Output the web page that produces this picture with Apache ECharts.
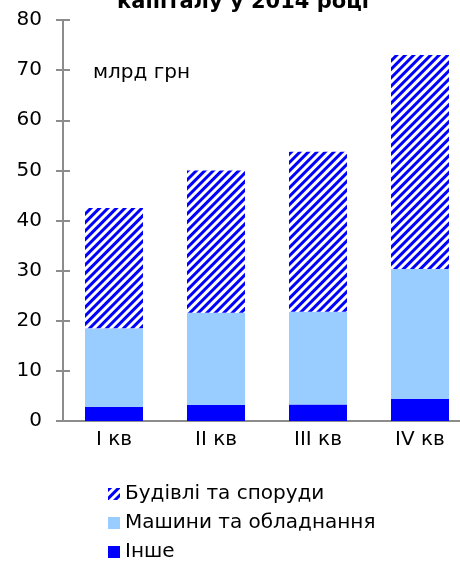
<!DOCTYPE html>
<html>
<head>
<meta charset="utf-8">
<script src="https://cdn.jsdelivr.net/npm/echarts@6/dist/echarts.min.js"></script>
<style>
  html, body { margin: 0; padding: 0; background: #fff; }
  #chart { width: 460px; height: 562px; }
</style>
</head>
<body>
<div id="chart"></div>
<script>
// квартали 2014 року, млрд грн
const quarters = ['I кв', 'II кв', 'III кв', 'IV кв'];
const other = [2.8, 3.2, 3.3, 4.4];
const machines = [15.7, 18.4, 18.5, 25.9];
const buildings = [24.0, 28.4, 31.9, 42.7];
const yTicks = [0, 10, 20, 30, 40, 50, 60, 70, 80];

const font = 'Verdana, "DejaVu Sans", sans-serif';
const axisGray = '#8c8c8c';

let chart = echarts.init(document.getElementById('chart'));

let option = {
    animation: false,
    textStyle: { fontFamily: font },
    title: {
        text: 'капіталу у 2014 році',
        left: 243,
        textAlign: 'center',
        top: -8,
        padding: 0,
        textStyle: { fontFamily: font, fontSize: 21, fontWeight: 'bold', color: '#000' }
    },
    grid: {
        left: 63,
        width: 408,
        top: 20,
        bottom: 141,
        outerBoundsMode: 'none'
    },
    legend: {
        orient: 'vertical',
        left: 108,
        top: 484,
        height: 78,
        padding: 0,
        icon: 'rect',
        itemWidth: 12,
        itemHeight: 12,
        itemGap: 9,
        textStyle: { fontFamily: font, fontSize: 20, color: '#000' },
        data: ['Будівлі та споруди', 'Машини та обладнання', 'Інше']
    },
    graphic: [{
        type: 'text',
        left: 93,
        top: 63,
        style: { text: 'млрд грн', font: '20px ' + font, fill: '#000' }
    }],
    xAxis: {
        type: 'category',
        data: quarters,
        axisLine: { lineStyle: { color: axisGray, width: 2 } },
        axisTick: { show: false },
        axisLabel: { color: '#000', fontSize: 20, margin: 9, fontFamily: font }
    },
    yAxis: [{
        type: 'value',
        min: 0,
        max: 80,
        interval: 10,
        splitLine: { show: false },
        axisLine: { show: true, lineStyle: { color: axisGray, width: 2 } },
        axisTick: { show: true, length: 7, lineStyle: { color: axisGray, width: 2 } },
        axisLabel: {
            color: '#000', fontSize: 20, margin: 21, fontFamily: font,
            formatter: v => yTicks.includes(v) ? String(v) : ''
        }
    }, {
        type: 'value',
        position: 'left',
        min: 0,
        max: 80,
        interval: 10,
        splitLine: { show: false },
        axisLine: { show: false },
        axisTick: { show: true, inside: true, length: 7, lineStyle: { color: axisGray, width: 2 } },
        axisLabel: { show: false }
    }],
    series: [{
        name: 'Інше',
        type: 'bar',
        stack: 'total',
        barWidth: 58,
        itemStyle: { color: '#0000ff' },
        data: other
    }, {
        name: 'Машини та обладнання',
        type: 'bar',
        stack: 'total',
        barWidth: 58,
        itemStyle: { color: '#99ccff' },
        data: machines
    }, {
        name: 'Будівлі та споруди',
        type: 'bar',
        stack: 'total',
        barWidth: 58,
        itemStyle: {
            color: '#ffffff',
            decal: {
                symbol: 'rect',
                symbolSize: 1,
                color: '#0000ff',
                dashArrayX: [1, 0],
                dashArrayY: [3, 3],
                rotation: -Math.PI / 4
            }
        },
        data: buildings
    }]
};

chart.setOption(option);
</script>
</body>
</html>
